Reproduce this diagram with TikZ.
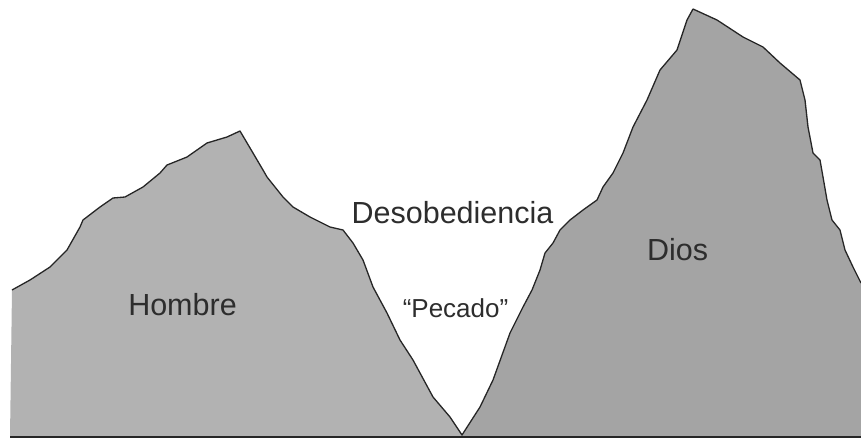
\documentclass[tikz,border=0pt]{standalone}
\usepackage{fontspec}
\setmainfont{Liberation Sans}
\definecolor{leftgrey}{RGB}{178,178,178}
\definecolor{rightgrey}{RGB}{164,164,164}
\definecolor{inkgrey}{RGB}{45,45,45}
\tikzset{
  ridge/.style={draw=black!85, line width=1.3pt, line join=round},
  label/.style={inner sep=0pt, anchor=base, text=inkgrey, font=\fontsize{30.5}{36}\selectfont},
  smalllabel/.style={inner sep=0pt, anchor=base, text=inkgrey, font=\fontsize{26}{31}\selectfont}
}
\begin{document}
\begin{tikzpicture}[x=1pt,y=-1pt]
\useasboundingbox (0,0) rectangle (861,439);
% left mountain (Hombre)
\fill[leftgrey] (10,437) -- (12,290) -- (30,280) -- (50,267) -- (67,250) -- (80,227) -- (83,220) -- (100,207) -- (113,198) -- (125,197) -- (143,187) -- (160,173) -- (167,165) -- (187,157) -- (207,143) -- (227,137) -- (240,131) -- (253,153) -- (263,170) -- (267,177) -- (283,197) -- (293,207) -- (310,217) -- (330,227) -- (343,230) -- (353,243) -- (363,260) -- (373,287) -- (387,313) -- (400,340) -- (413,360) -- (433,397) -- (450,417) -- (462,435) -- (462,437) -- cycle;
% right mountain (Dios)
\fill[rightgrey] (462,437) -- (462,435) -- (480,407) -- (493,380) -- (510,333) -- (523,307) -- (532,290) -- (540,270) -- (545,253) -- (553,243) -- (560,230) -- (570,220) -- (583,210) -- (597,200) -- (603,187) -- (613,173) -- (623,153) -- (633,127) -- (647,100) -- (660,70) -- (677,50) -- (687,20) -- (693,9) -- (717,20) -- (743,37) -- (763,47) -- (780,63) -- (800,80) -- (805,100) -- (808,127) -- (813,153) -- (820,160) -- (823,177) -- (827,200) -- (832,220) -- (840,230) -- (845,250) -- (853,267) -- (861,283) -- (861,437) -- cycle;
% ridge outline
\draw[ridge] (12,290) -- (30,280) -- (50,267) -- (67,250) -- (80,227) -- (83,220) -- (100,207) -- (113,198) -- (125,197) -- (143,187) -- (160,173) -- (167,165) -- (187,157) -- (207,143) -- (227,137) -- (240,131) -- (253,153) -- (263,170) -- (267,177) -- (283,197) -- (293,207) -- (310,217) -- (330,227) -- (343,230) -- (353,243) -- (363,260) -- (373,287) -- (387,313) -- (400,340) -- (413,360) -- (433,397) -- (450,417) -- (462,435) -- (480,407) -- (493,380) -- (510,333) -- (523,307) -- (532,290) -- (540,270) -- (545,253) -- (553,243) -- (560,230) -- (570,220) -- (583,210) -- (597,200) -- (603,187) -- (613,173) -- (623,153) -- (633,127) -- (647,100) -- (660,70) -- (677,50) -- (687,20) -- (693,9) -- (717,20) -- (743,37) -- (763,47) -- (780,63) -- (800,80) -- (805,100) -- (808,127) -- (813,153) -- (820,160) -- (823,177) -- (827,200) -- (832,220) -- (840,230) -- (845,250) -- (853,267) -- (861,283);
% ground line
\draw[black!85, line width=1.5pt] (10,437) -- (861,437);
% labels
\node[label] (hombre) at (182.5,315) {Hombre};
\node[label] (deso) at (452.5,223) {Desobediencia};
\node[label] (dios) at (677.5,260) {Dios};
\node[smalllabel] (pecado) at (455.5,317) {“Pecado”};
\end{tikzpicture}
\end{document}
